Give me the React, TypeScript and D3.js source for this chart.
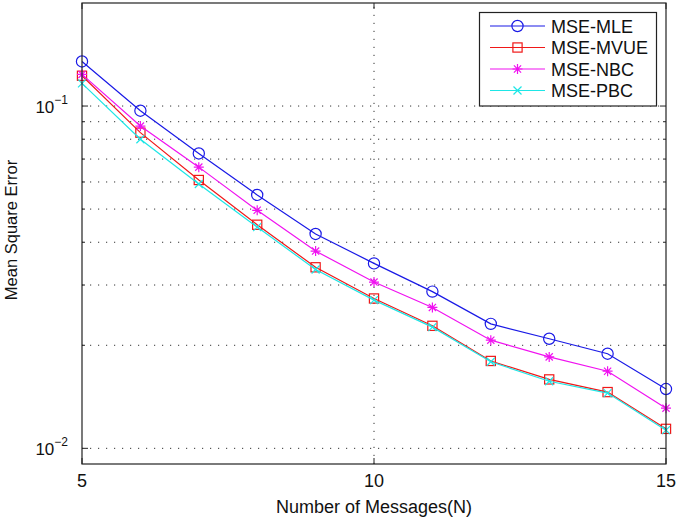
import * as d3 from "d3";

const messages = [5, 6, 7, 8, 9, 10, 11, 12, 13, 14, 15];
const mseMLE = [0.135, 0.0969, 0.0727, 0.055, 0.0423, 0.0347, 0.0287, 0.0231, 0.0209, 0.0189, 0.0149];
const mseMVUE = [0.1226, 0.0836, 0.0608, 0.045, 0.0338, 0.0274, 0.0228, 0.018, 0.0159, 0.0146, 0.0114];
const mseNBC = [0.1237, 0.0874, 0.0663, 0.0496, 0.0377, 0.0306, 0.0258, 0.0207, 0.0185, 0.0168, 0.0131];
const msePBC = [0.1165, 0.08, 0.0592, 0.0443, 0.0333, 0.0271, 0.0226, 0.0179, 0.0157, 0.0145, 0.0113];
const seriesNames = ["MSE-MLE", "MSE-MVUE", "MSE-NBC", "MSE-PBC"];
const xTicks = [5, 10, 15];
const yMajor = [0.01, 0.1];
const yMinor = [0.02, 0.03, 0.04, 0.05, 0.06, 0.07, 0.08, 0.09];

const W = 676;
const H = 520;
const m = { left: 82, right: 10, top: 3, bottom: 56 };
const font = "'Liberation Sans', Arial, Helvetica, sans-serif";

type Marker = "circle" | "square" | "star" | "x";

function MarkerShape({ kind, x, y, color }: { kind: Marker; x: number; y: number; color: string }) {
  const sw = 1.2;
  if (kind === "circle")
    return <circle cx={x} cy={y} r={5.6} fill="none" stroke={color} strokeWidth={sw} />;
  if (kind === "square")
    return <rect x={x - 4.6} y={y - 4.6} width={9.2} height={9.2} fill="none" stroke={color} strokeWidth={sw} />;
  if (kind === "x") {
    const s = 4;
    return (
      <path d={`M${x - s},${y - s}L${x + s},${y + s}M${x - s},${y + s}L${x + s},${y - s}`} stroke={color} strokeWidth={sw} />
    );
  }
  const s = 5;
  const d = s * 0.72;
  return (
    <path
      d={`M${x},${y - s}L${x},${y + s}M${x - d},${y - d}L${x + d},${y + d}M${x - d},${y + d}L${x + d},${y - d}M${x - s},${y}L${x + s},${y}`}
      stroke={color}
      strokeWidth={sw}
    />
  );
}

export default function App() {
  const x = d3.scaleLinear().domain([5, 15]).range([m.left, W - m.right]);
  const y = d3.scaleLog().domain([0.009, 0.2]).range([H - m.bottom, m.top]);

  const series = [
    { name: seriesNames[0], values: mseMLE, color: "#1a1ae6", marker: "circle" as Marker },
    { name: seriesNames[1], values: mseMVUE, color: "#f01818", marker: "square" as Marker },
    { name: seriesNames[2], values: mseNBC, color: "#f012f0", marker: "star" as Marker },
    { name: seriesNames[3], values: msePBC, color: "#1ee6e6", marker: "x" as Marker },
  ];

  const line = d3
    .line<number>()
    .x((_, i) => x(messages[i]))
    .y((d) => y(d));

  const x0 = x.range()[0];
  const x1 = x.range()[1];
  const y0 = y.range()[0];
  const y1 = y.range()[1];
  const grid = "1.2,6.8";

  return (
    <svg width={W} height={H} style={{ position: "absolute", left: 0, top: 0 }} fontFamily={font}>
      <rect width={W} height={H} fill="#fff" />
      {/* grid */}
      {[...yMajor, ...yMinor].map((v) => (
        <line key={"gy" + v} x1={x0} x2={x1} y1={y(v)} y2={y(v)} stroke="#333" strokeWidth={1} strokeDasharray={grid} />
      ))}
      {xTicks.slice(1, -1).map((v) => (
        <line key={"gx" + v} x1={x(v)} x2={x(v)} y1={y0} y2={y1} stroke="#333" strokeWidth={1} strokeDasharray={grid} />
      ))}
      {/* ticks */}
      {yMajor.map((v) => (
        <g key={"ty" + v}>
          <line x1={x0} x2={x0 + 6} y1={y(v)} y2={y(v)} stroke="#222" />
          <line x1={x1} x2={x1 - 6} y1={y(v)} y2={y(v)} stroke="#222" />
        </g>
      ))}
      {yMinor.map((v) => (
        <g key={"tm" + v}>
          <line x1={x0} x2={x0 + 3} y1={y(v)} y2={y(v)} stroke="#222" />
          <line x1={x1} x2={x1 - 3} y1={y(v)} y2={y(v)} stroke="#222" />
        </g>
      ))}
      {xTicks.map((v) => (
        <g key={"tx" + v}>
          <line x1={x(v)} x2={x(v)} y1={y0} y2={y0 - 6} stroke="#222" />
          <line x1={x(v)} x2={x(v)} y1={y1} y2={y1 + 6} stroke="#222" />
        </g>
      ))}
      {/* series */}
      {series.map((s) => (
        <g key={s.name}>
          <path d={line(s.values) ?? ""} fill="none" stroke={s.color} strokeWidth={1.2} />
          {s.values.map((v, i) => (
            <MarkerShape key={i} kind={s.marker} x={x(messages[i])} y={y(v)} color={s.color} />
          ))}
        </g>
      ))}
      {/* axes box */}
      <rect x={x0} y={y1} width={x1 - x0} height={y0 - y1} fill="none" stroke="#222" strokeWidth={1.2} />
      {/* tick labels */}
      {xTicks.map((v) => (
        <text key={"lx" + v} x={x(v)} y={y0 + 23} textAnchor="middle" fontSize={18} fill="#111">
          {v}
        </text>
      ))}
      {yMajor.map((v) => (
        <text key={"ly" + v} x={x0 - 14} y={y(v) + 6.5} textAnchor="end" fontSize={17} fill="#111">
          10
          <tspan dy={-9} fontSize={12}>
            {"\u2212" + Math.round(-Math.log10(v))}
          </tspan>
        </text>
      ))}
      {/* axis titles */}
      <text x={(x0 + x1) / 2} y={513} textAnchor="middle" fontSize={18} fill="#111">
        Number of Messages(N)
      </text>
      <text transform={`translate(17,230) rotate(-90)`} textAnchor="middle" fontSize={16.5} fill="#111">
        Mean Square Error
      </text>
      {/* legend */}
      <g>
        <rect x={479.5} y={12.5} width={177} height={93.5} fill="#fff" stroke="#222" strokeWidth={1.2} />
        {series.map((s, i) => {
          const ly = 26 + i * 21.5;
          return (
            <g key={"lg" + s.name}>
              <line x1={490} x2={545} y1={ly} y2={ly} stroke={s.color} strokeWidth={1.2} />
              <MarkerShape kind={s.marker} x={517.5} y={ly} color={s.color} />
              <text x={551} y={ly + 6.5} fontSize={18} fill="#111">
                {s.name}
              </text>
            </g>
          );
        })}
      </g>
    </svg>
  );
}
